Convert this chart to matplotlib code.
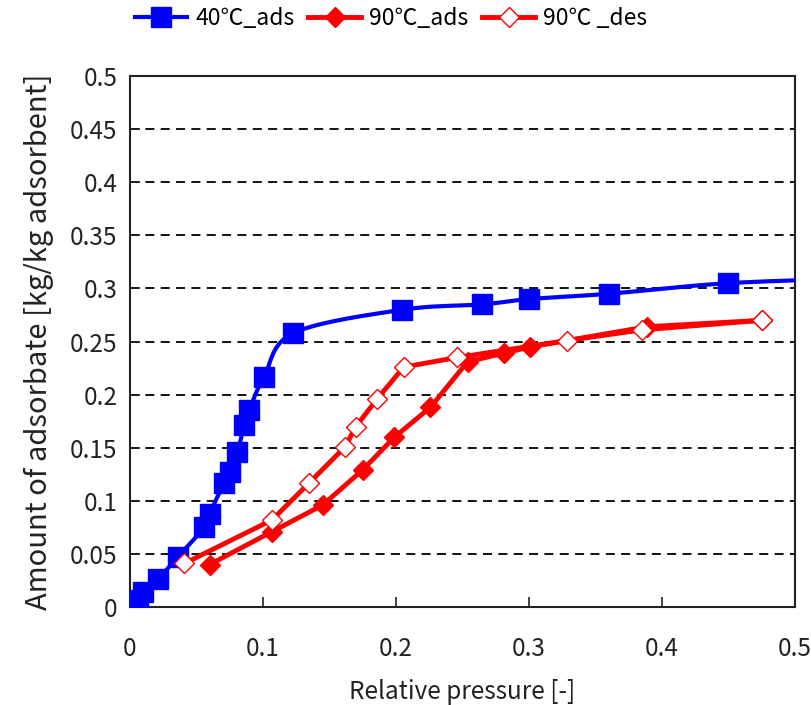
import numpy as np
import matplotlib
matplotlib.use('Agg')
import matplotlib.pyplot as plt

plt.rcParams['font.family'] = ['Noto Sans CJK JP', 'DejaVu Sans']

# 40℃ adsorption isotherm
p40_ads = [0.006, 0.01, 0.021, 0.036, 0.056, 0.06, 0.071, 0.075, 0.081, 0.086, 0.09,
           0.101, 0.123, 0.205, 0.265, 0.30, 0.36, 0.45, 0.56]
q40_ads = [0.007, 0.014, 0.026, 0.047, 0.075, 0.088, 0.117, 0.127, 0.146, 0.171, 0.186,
           0.217, 0.258, 0.280, 0.285, 0.290, 0.295, 0.305, 0.310]

# 90℃ adsorption / desorption
p90_ads = [0.06, 0.107, 0.145, 0.175, 0.199, 0.226, 0.254, 0.281, 0.301, 0.389, 0.475]
q90_ads = [0.040, 0.071, 0.096, 0.129, 0.160, 0.188, 0.231, 0.239, 0.245, 0.264, 0.270]

p90_des = [0.475, 0.385, 0.329, 0.246, 0.206, 0.186, 0.170, 0.162, 0.135, 0.107, 0.041]
q90_des = [0.270, 0.261, 0.251, 0.235, 0.226, 0.196, 0.170, 0.151, 0.117, 0.082, 0.041]

x_ticks = [0, 0.1, 0.2, 0.3, 0.4, 0.5]
x_labels = ['0', '0.1', '0.2', '0.3', '0.4', '0.5']
y_ticks = [0, 0.05, 0.1, 0.15, 0.2, 0.25, 0.3, 0.35, 0.4, 0.45, 0.5]
y_labels = ['0', '0.05', '0.1', '0.15', '0.2', '0.25', '0.3', '0.35', '0.4', '0.45', '0.5']


def smooth(x, y, n=20):
    # Catmull-Rom style curve through the points (like a spreadsheet smoothed line)
    x = np.asarray(x, float)
    y = np.asarray(y, float)
    px = np.concatenate([[x[0]], x, [x[-1]]])
    py = np.concatenate([[y[0]], y, [y[-1]]])
    xs, ys = [], []
    t = np.linspace(0, 1, n)
    for i in range(1, len(px) - 2):
        x0, x1, x2, x3 = px[i - 1:i + 3]
        y0, y1, y2, y3 = py[i - 1:i + 3]
        c1x, c1y = x1 + (x2 - x0) / 6, y1 + (y2 - y0) / 6
        c2x, c2y = x2 - (x3 - x1) / 6, y2 - (y3 - y1) / 6
        bx = (1 - t) ** 3 * x1 + 3 * (1 - t) ** 2 * t * c1x + 3 * (1 - t) * t ** 2 * c2x + t ** 3 * x2
        by = (1 - t) ** 3 * y1 + 3 * (1 - t) ** 2 * t * c1y + 3 * (1 - t) * t ** 2 * c2y + t ** 3 * y2
        xs.extend(bx)
        ys.extend(by)
    return np.array(xs), np.array(ys)


fig = plt.figure(figsize=(8.11, 7.05), dpi=100)
ax = fig.add_axes([0.160, 0.139, 0.820, 0.753])

for y in y_ticks[1:-1]:
    ax.axhline(y, color='black', lw=1.3, ls=(0, (5, 3.5)), zorder=1)

sx, sy = smooth(p40_ads, q40_ads)
ax.plot(sx, sy, color='#0000ff', lw=3, zorder=3)
ax.plot(p40_ads, q40_ads, ls='none', marker='s', ms=14, color='#0000ff', zorder=4)
h40, = ax.plot([], [], color='#0000ff', lw=3, marker='s', ms=14)

ax.plot(p90_ads, q90_ads, color='#ff0000', lw=3.5, marker='D', ms=10,
        mfc='#ff0000', mec='#ff0000', zorder=3, label='90℃_ads')
ax.plot(p90_des, q90_des, color='#ff0000', lw=3.5, marker='D', ms=10,
        mfc='white', mec='#ff0000', mew=1, zorder=5, label='90℃ _des')

ax.set_xlim(0, 0.5)
ax.set_ylim(0, 0.5)
ax.set_xticks(x_ticks)
ax.set_xticklabels(x_labels)
ax.set_yticks(y_ticks)
ax.set_yticklabels(y_labels)
ax.tick_params(direction='in', length=7, width=1.2, labelsize=17.5, colors='#222222')
ax.tick_params(axis='x', pad=21)
ax.tick_params(axis='y', pad=9)
for s in ax.spines.values():
    s.set_linewidth(1.5)
    s.set_color('#222222')

ax.set_xlabel('Relative pressure [-]', fontsize=17.5, labelpad=12, color='#222222')
ax.set_ylabel('Amount of adsorbate [kg/kg adsorbent]', fontsize=21, labelpad=11, color='#222222')

handles, labels = ax.get_legend_handles_labels()
leg = fig.legend([h40] + handles, ['40℃_ads'] + labels, loc='center',
                 bbox_to_anchor=(0.482, 0.974), ncol=3, frameon=False, fontsize=16.5,
                 handlelength=2.3, handletextpad=0.35, columnspacing=0.6)

fig.savefig('out.png', dpi=100)
